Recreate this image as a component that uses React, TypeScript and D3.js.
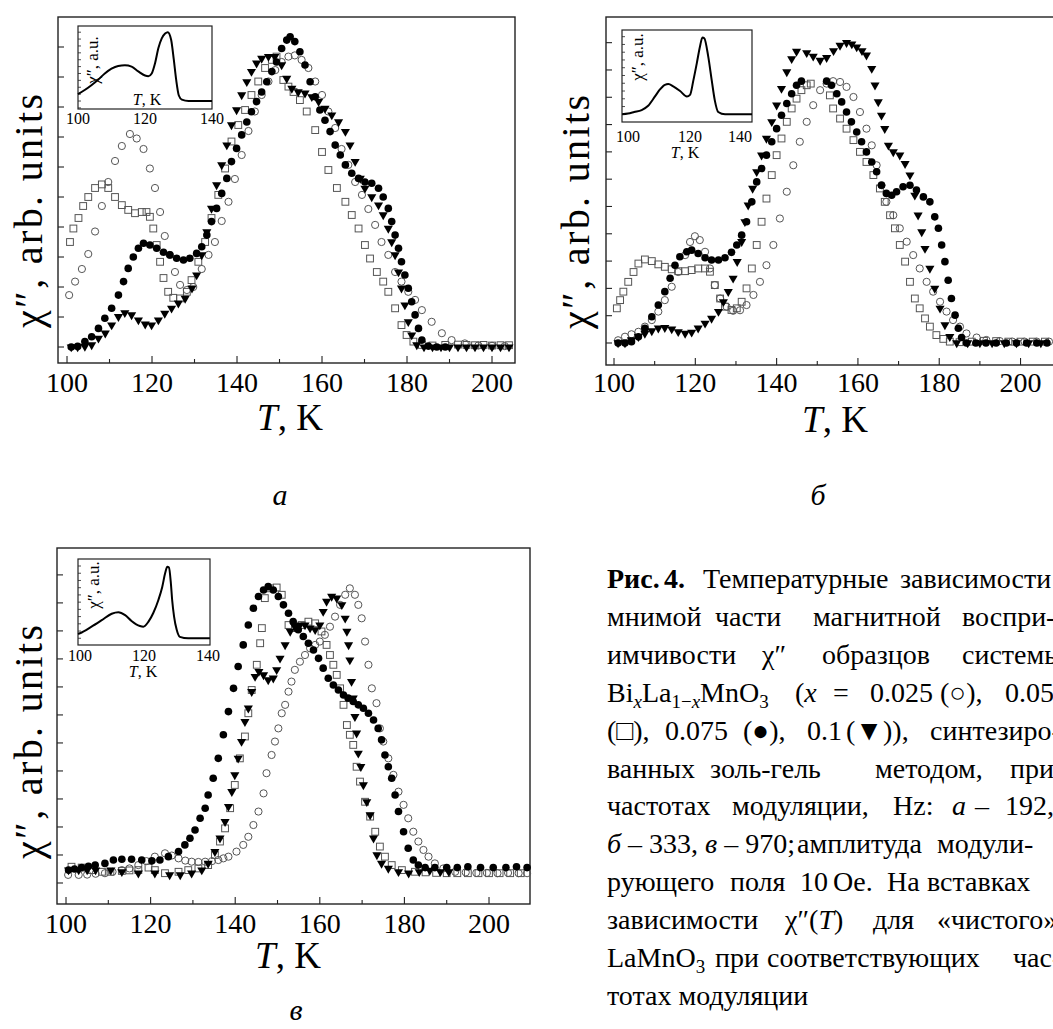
import React from 'react';
import * as d3 from 'd3';

type Pt = [number, number];

const FONT = '"Liberation Serif", "Times New Roman", Times, serif';

const xTickValues = [100, 110, 120, 130, 140, 150, 160, 170, 180, 190, 200];
const xLabelValues = [100, 120, 140, 160, 180, 200];
const insetTickValues = [100, 120, 140];

// ---- panel a (192 Hz): x = 0.025 (o), 0.05 (sq), 0.075 (dot), 0.1 (tri)
const aCircle: Pt[] = [[100.5,1.73],[101.9,2.18],[103.5,2.6],[105,3.1],[106.6,3.85],[108.2,4.7],[109.7,5.5],[111.3,6.2],[112.9,6.7],[114.8,7.1],[116.4,6.95],[118,6.6],[119.5,5.95],[120.7,5.3],[121.9,4.5],[123,3.7],[124.2,3.07],[125.4,2.5],[126.6,2.07],[128.2,1.9],[129.7,2.0],[131.7,2.6],[133.3,3.07],[134.8,3.5],[136.4,4.2],[138,4.84],[139.5,5.6],[141.1,6.4],[142.7,7.2],[144.2,7.85],[145.8,8.4],[147.4,8.85],[149,9.23],[150.5,9.5],[152.1,9.68],[153.6,9.72],[155.2,9.57],[156.8,9.3],[158.4,8.85],[160,8.4],[161.5,7.85],[163.1,7.3],[164.6,6.6],[166.2,6.07],[167.8,5.5],[169.4,5.07],[170.9,4.6],[172.5,4.07],[174,3.5],[175.6,3.07],[177.2,2.5],[178.7,2.18],[180.3,1.84],[181.9,1.57],[183.5,1.23],[185.8,0.84],[188.2,0.46],[190.5,0.23],[193.6,0.12],[196.8,0.05],[200,0.04],[203,0.03]];
const aSquare: Pt[] = [[100.7,3.5],[101.5,3.95],[102.7,4.3],[103.8,4.7],[105,5.0],[106.6,5.3],[108.2,5.42],[109.7,5.3],[111.3,5.0],[112.9,4.73],[114.4,4.57],[116,4.46],[117.6,4.5],[118.7,4.5],[119.5,4.34],[120.3,3.95],[121.1,3.4],[121.9,2.84],[122.7,2.3],[123.8,1.84],[125,1.64],[126.6,1.62],[128.2,1.84],[129.3,2.23],[130.9,2.84],[132.5,3.5],[134,4.3],[135.6,5.07],[137.2,5.95],[138.7,6.85],[140.3,7.4],[141.9,7.9],[143.4,8.4],[145,8.85],[146.6,9.3],[148.2,9.57],[149.3,9.68],[150.9,8.9],[152.1,8.68],[153.3,8.5],[154.8,8.23],[156.4,7.85],[158.4,7.23],[160,6.5],[161.5,5.9],[163.5,5.3],[165.5,4.84],[167,4.4],[168.6,3.95],[170.1,3.4],[171.3,2.95],[172.9,2.5],[174.4,2.18],[175.6,1.84],[177.2,1.29],[178.7,0.73],[179.9,0.4],[181.5,0.18],[183.5,0.07],[186,0.05],[189,0.07],[192,0.08],[194,0.07],[196,0.06],[198,0.07],[200,0.05],[202,0.06],[204,0.06]];
const aDot: Pt[] = [[101,0],[102.5,0.02],[104.2,0.18],[105.8,0.34],[107.4,0.62],[108.9,0.96],[110.5,1.29],[112.1,1.73],[113.3,2.18],[114.4,2.62],[115.6,3.0],[116.8,3.29],[118,3.46],[119.5,3.4],[121.1,3.29],[122.7,3.16],[124.2,3.07],[125.8,2.96],[127.4,2.9],[128.9,2.96],[130.5,3.12],[131.7,3.34],[132.9,3.73],[134,4.18],[135.2,4.62],[136.4,5.12],[137.6,5.62],[138.7,6.18],[139.9,6.62],[141.1,7.07],[142.3,7.5],[143.4,7.84],[144.6,8.18],[145.8,8.5],[147,8.84],[148.2,9.18],[149.3,9.5],[150.5,9.95],[151.7,10.23],[152.5,10.34],[153.6,10.18],[154.8,9.84],[156,9.4],[157.2,8.84],[158.4,8.34],[159.5,7.9],[160.7,7.56],[161.9,7.18],[163.1,6.73],[164.3,6.4],[165.5,6.07],[167,5.79],[168.6,5.62],[170.1,5.5],[171.7,5.46],[173.3,5.29],[174.4,5.0],[175.6,4.62],[176.4,4.18],[177.2,3.73],[178,3.29],[178.7,2.84],[179.5,2.4],[180.3,1.96],[181.1,1.51],[181.9,1.07],[182.7,0.62],[183.5,0.23],[185,0.03],[187,0],[189,0]];
const aTri: Pt[] = [[101,0],[102.5,0],[104.2,0.02],[105.8,0.07],[107.4,0.29],[109,0.46],[110.5,0.73],[112.1,1.01],[113.6,1.14],[115.2,1.07],[116.8,0.9],[118.4,0.76],[119.9,0.73],[121.5,0.9],[123,1.12],[124.6,1.29],[126.2,1.46],[127.8,1.62],[129.4,1.96],[130.5,2.4],[131.7,3.07],[132.9,3.84],[134,4.62],[135.2,5.4],[136.4,6.07],[137.6,6.73],[138.7,7.4],[139.9,7.9],[141.1,8.4],[142.3,8.84],[143.4,9.18],[144.6,9.46],[145.8,9.62],[147.4,9.68],[148.9,9.68],[150.5,9.4],[151.7,8.95],[152.9,8.62],[154.4,8.5],[156,8.46],[157.6,8.34],[159.2,8.18],[160.7,7.95],[162.3,7.73],[163.9,7.5],[165.5,7.18],[166.6,6.73],[167.8,6.18],[169,5.62],[170.1,5.29],[171.7,5.0],[173.3,4.73],[174.4,4.4],[175.6,3.95],[176.4,3.5],[177.2,3.07],[178,2.5],[178.7,1.96],[179.5,1.4],[180.3,0.84],[181.1,0.4],[182.3,0.07],[184,0],[186,0],[188,0],[190,0],[192,0],[194,0],[196,0],[198,0],[200,0],[202,0],[204,0]];

// ---- panel б (333 Hz)
const bCircle: Pt[] = [[101,0.1],[102.7,0.23],[104.3,0.32],[106,0.41],[107.6,0.6],[109.3,0.84],[110.9,1.15],[112.5,1.57],[114.2,2.06],[115.8,2.6],[117.5,3.22],[118.7,3.7],[119.9,3.91],[121.1,3.77],[122.4,3.34],[123.6,2.73],[124.8,2.12],[126.1,1.63],[127.7,1.33],[129.3,1.18],[131,1.2],[132.6,1.39],[134.3,1.76],[135.9,2.24],[137.5,2.85],[139.2,3.59],[140.8,4.56],[142.5,5.54],[144.1,6.51],[145.7,7.37],[147.4,8.1],[149,8.71],[150.7,9.26],[152.3,9.5],[153.9,9.59],[155.6,9.56],[157.2,9.38],[158.9,9.01],[160.5,8.46],[162.1,7.85],[163.4,7.24],[164.6,6.51],[165.8,5.78],[167,5.17],[168.7,4.68],[170.3,4.2],[172,3.71],[173.6,3.22],[175.2,2.73],[176.9,2.24],[178.5,1.88],[180.2,1.51],[181.8,1.15],[183.4,0.84],[185.1,0.6],[186.7,0.35],[189.2,0.2],[191.6,0.11],[194.9,0.07],[198,0.05],[201,0.05],[204,0.05],[207,0.05]];
const bSquare: Pt[] = [[100.7,1.27],[101.5,1.57],[102.3,1.88],[103.5,2.24],[104.8,2.6],[106,2.91],[107.6,3.06],[109.3,3.0],[110.9,2.88],[112.5,2.79],[114.2,2.7],[115.8,2.63],[117.5,2.63],[119.1,2.67],[120.7,2.73],[122.4,2.73],[123.6,2.61],[124.8,2.12],[126.1,1.63],[127.3,1.33],[128.9,1.21],[130.2,1.27],[131.4,1.51],[132.6,2.0],[133.9,2.73],[135.1,3.59],[136.3,4.44],[137.5,5.29],[138.8,6.15],[140,6.88],[141.2,7.49],[142.5,8.1],[143.7,8.59],[144.9,8.95],[146.1,9.26],[147.4,9.44],[148.4,9.5],[153.1,9.07],[153.9,8.59],[155.6,8.22],[157.2,7.85],[158.9,7.43],[160.5,7.0],[162.1,6.63],[163.8,6.15],[165.4,5.66],[166.6,5.17],[167.9,4.68],[169.1,4.2],[170.3,3.59],[171.6,2.98],[172.8,2.24],[174,1.63],[175.2,1.27],[176.5,0.9],[177.7,0.6],[179.3,0.29],[181,0.15],[182.6,0.05],[185,0.03],[188,0.05],[191,0.08],[194,0.07],[197,0.05],[200,0.05],[203,0.05],[206,0.05]];
const bDot: Pt[] = [[101,0],[102.7,0],[104.3,0.05],[106,0.23],[107.6,0.54],[109.3,0.96],[110.9,1.39],[112.5,1.88],[113.8,2.37],[115,2.85],[116.2,3.16],[117.9,3.34],[119.1,3.4],[120.7,3.28],[122.4,3.12],[124,3.04],[125.7,3.04],[127.3,3.12],[128.9,3.32],[130.2,3.59],[131.4,3.95],[132.6,4.44],[133.9,5.17],[135.1,5.9],[136.3,6.39],[137.5,6.88],[138.8,7.37],[140,7.85],[141.2,8.34],[142.5,8.77],[143.7,9.13],[144.9,9.44],[146.1,9.59],[152.3,9.59],[153.5,9.44],[154.8,9.13],[156,8.83],[157.2,8.46],[158.4,8.1],[159.7,7.73],[160.9,7.37],[162.1,7.0],[163.4,6.63],[164.6,6.27],[165.8,5.78],[167,5.48],[168.3,5.41],[169.5,5.54],[171.1,5.72],[172.8,5.78],[174.4,5.6],[176.1,5.35],[177.7,5.17],[178.9,4.62],[179.8,4.2],[180.6,3.59],[181.4,2.98],[182.2,2.3],[183,1.63],[183.9,1.02],[184.7,0.54],[185.5,0.2],[186.7,0],[189,0],[191.5,0],[194,0],[196.5,0],[199,0],[201.5,0],[204,0],[206.5,0]];
const bTri: Pt[] = [[101,0],[102.7,0],[104.3,0.11],[106,0.23],[107.6,0.35],[109.3,0.44],[110.9,0.54],[112.5,0.56],[114.2,0.51],[115.8,0.41],[117.5,0.35],[119.1,0.39],[120.7,0.54],[122.4,0.72],[124,0.9],[125.7,1.15],[126.9,1.51],[128.1,1.88],[129.3,2.37],[130.3,2.98],[131.4,3.71],[132.2,4.44],[133,5.05],[134.1,5.66],[135.1,6.27],[136.3,6.88],[137.5,7.49],[138.8,8.1],[140,8.71],[141.2,9.32],[142.5,9.93],[143.7,10.41],[144.9,10.68],[147.4,10.63],[149,10.5],[150.7,10.35],[152.3,10.45],[154,10.7],[155.6,10.9],[157.2,11.0],[158.5,10.95],[159.7,10.84],[161,10.7],[162.1,10.54],[163.4,10.05],[164.2,9.44],[165,8.83],[165.8,8.34],[166.6,7.85],[167.5,7.24],[168.7,7.0],[170.3,6.88],[171.6,6.57],[172.8,6.15],[174,5.41],[174.8,4.68],[175.7,4.07],[176.5,3.46],[177.7,2.73],[178.9,2.0],[180.2,1.27],[181.4,0.66],[182.6,0.23],[184.3,0],[187,0],[190,0],[193,0],[196,0],[199,0],[202,0],[205,0]];

// ---- panel в (970 Hz)
const cCircle: Pt[] = [[100.5,0.29],[103,0.29],[105,0.3],[107,0.33],[109.2,0.35],[111,0.4],[113.2,0.46],[115,0.52],[117.1,0.64],[119,0.78],[121,0.94],[123.4,1.06],[125,0.98],[126.6,0.88],[128.2,0.8],[129.7,0.76],[131.3,0.75],[132.9,0.76],[134.5,0.78],[136,0.82],[137.2,0.88],[138.4,0.94],[140.3,1.12],[141.9,1.36],[143.1,1.65],[144.3,2.07],[145.5,2.55],[146.7,3.2],[147.4,3.92],[148.6,4.57],[149.4,5.05],[150.2,5.52],[151,6.06],[151.8,6.36],[152.6,6.83],[153.3,7.19],[154.1,7.61],[155.3,7.9],[156.5,8.14],[157.7,8.38],[158.9,8.5],[160,8.62],[161.2,8.86],[162.4,9.15],[163.6,9.51],[164.8,9.93],[166,10.29],[167.1,10.52],[168.3,10.29],[169.1,9.93],[169.9,9.45],[170.7,8.62],[171.5,7.79],[172.3,6.95],[173.4,6.42],[174.2,5.52],[175,5.05],[176.2,4.45],[177.4,3.86],[178.6,3.26],[179.8,2.79],[180.9,2.31],[182.1,1.83],[183.3,1.48],[184.5,1.18],[185.7,0.94],[187.2,0.7],[189.2,0.52],[192,0.4],[194.5,0.38],[197,0.36],[199.5,0.36],[202,0.35],[204.5,0.36],[207,0.35],[209,0.35]];
const cSquare: Pt[] = [[101.3,0.58],[103.7,0.55],[106.1,0.46],[108.5,0.4],[110.5,0.4],[113.2,0.43],[115,0.45],[117.1,0.46],[119.5,0.55],[121,0.46],[123.4,0.35],[126.6,0.4],[128.9,0.46],[131.3,0.52],[133.6,0.64],[135.2,1.0],[136.4,1.48],[137.6,1.95],[138.8,2.67],[139.9,3.5],[141.1,4.45],[142.3,5.23],[143.1,6.06],[143.9,6.89],[145.1,7.79],[145.9,8.56],[146.3,9.1],[147,10.17],[148.2,10.52],[149.8,10.55],[151,10.29],[152.6,9.21],[154.1,9.1],[155.7,9.21],[157.3,9.33],[158.9,9.27],[160.4,8.98],[161.6,8.5],[162.4,8.14],[163.2,7.79],[164,7.43],[164.8,6.95],[165.6,6.36],[166.4,5.64],[167.1,5.29],[167.9,4.93],[168.7,4.15],[169.5,3.62],[170.7,2.9],[171.9,2.37],[173.1,1.83],[174.2,1.3],[175.4,0.94],[177,0.64],[179.4,0.46],[182.5,0.4],[185,0.38],[187.5,0.36],[190,0.35],[192.5,0.35],[195,0.35],[197.5,0.35],[200,0.35],[202.5,0.35],[205,0.35],[207.5,0.35]];
const cDot: Pt[] = [[100.6,0.46],[102,0.5],[103.7,0.55],[105.3,0.6],[106.9,0.64],[109.2,0.7],[111.2,0.82],[113.2,0.85],[115.5,0.85],[117.9,0.82],[120.3,0.79],[122.2,0.82],[124.2,0.94],[126.6,1.12],[128.1,1.36],[129.3,1.6],[130.5,1.89],[131.7,2.31],[132.9,2.67],[133.6,3.14],[134.8,3.74],[136,4.45],[137.2,5.29],[138.4,6.12],[139.6,6.95],[140.7,7.73],[141.9,8.5],[143.1,9.21],[144.3,9.81],[145.5,10.23],[146.7,10.46],[147.8,10.58],[149,10.46],[150.2,10.23],[151.4,9.93],[152.6,9.63],[153.7,9.33],[154.9,9.04],[156.1,8.8],[157.3,8.56],[158.5,8.32],[159.7,8.02],[160.8,7.67],[162,7.31],[163.2,7.07],[164.4,6.89],[165.6,6.71],[166.7,6.6],[167.9,6.48],[169.1,6.36],[170.3,6.24],[171.5,6.06],[172.7,5.82],[173.8,5.52],[174.6,5.11],[175.4,4.57],[176.2,4.15],[177,3.74],[177.8,3.14],[178.6,2.55],[179.8,1.83],[180.9,1.24],[182.1,0.82],[183.3,0.64],[184.9,0.55],[187.2,0.55],[190,0.55],[192.5,0.55],[195,0.58],[198,0.55],[201,0.55],[204,0.55],[206.5,0.58],[209,0.55]];
const cTri: Pt[] = [[100.6,0.46],[103,0.46],[105,0.46],[107,0.46],[110.6,0.46],[113.2,0.4],[117.1,0.35],[121,0.35],[124.5,0.29],[127,0.29],[129.7,0.35],[132.1,0.46],[133.6,0.7],[135.2,1.12],[136.4,1.6],[137.6,2.19],[138.4,2.73],[139.2,3.26],[139.9,3.86],[140.7,4.45],[141.5,5.05],[142.3,5.76],[143.1,6.24],[143.9,6.83],[144.7,7.37],[145.6,7.55],[146.7,7.43],[147.8,7.25],[149,7.31],[149.8,7.61],[150.6,8.02],[151.8,8.5],[153,8.98],[154.1,9.15],[155.3,9.21],[156.5,9.21],[157.7,9.1],[158.9,9.04],[160,9.21],[160.8,9.69],[161.6,10.05],[162.8,10.23],[164,10.17],[165.2,9.93],[166,9.45],[166.4,8.98],[166.8,8.5],[167.1,7.96],[167.5,7.19],[167.9,6.6],[168.3,5.94],[168.7,5.35],[169.1,4.63],[169.7,4.15],[170.3,3.5],[171.1,2.9],[171.9,2.43],[172.7,1.6],[173.5,1.0],[174.6,0.7],[176.2,0.52],[178.6,0.4],[181,0.35],[183.5,0.4],[186,0.45],[188.5,0.4],[190.5,0.4]];

// ---- insets: pure LaMnO3
const insetA: Pt[] = [[100,0.1],[102,0.16],[104,0.23],[106,0.31],[108,0.4],[110,0.47],[112,0.51],[114,0.52],[116,0.5],[118,0.43],[120,0.37],[121,0.36],[122,0.4],[123,0.55],[124,0.77],[125,0.91],[126,0.98],[126.8,1.0],[127.8,0.89],[128.6,0.6],[129.3,0.31],[130.1,0.08],[131,0.02],[133,0],[140,0]];
const insetB: Pt[] = [[98.1,0],[100,0.01],[102,0.03],[104.4,0.055],[106.5,0.11],[108.7,0.23],[110.3,0.32],[111.9,0.38],[113,0.39],[114.6,0.36],[116.8,0.3],[119,0.23],[120,0.25],[121.1,0.44],[122.2,0.66],[123.2,0.87],[124,0.99],[124.6,0.98],[125.9,0.74],[127,0.44],[128,0.18],[129.1,0.03],[131.3,0],[140,0]];
const insetC: Pt[] = [[99.4,0.06],[100,0.07],[103.6,0.16],[106.8,0.25],[109.9,0.34],[112,0.36],[114.1,0.32],[116.1,0.24],[118.7,0.17],[119.8,0.16],[121.4,0.23],[122.9,0.35],[124.5,0.53],[125.7,0.71],[126.6,0.9],[127.3,0.99],[127.8,0.98],[128.4,0.76],[128.8,0.53],[129.4,0.3],[130.2,0.12],[131.2,0.02],[133.8,0],[140.6,0]];

const triPath = d3.symbol().type(d3.symbolTriangle).size(36)() as string;

function Inset({ cfg }: { cfg: any }) {
  const x = d3.scaleLinear().domain(cfg.xDom).range([cfg.left, cfg.right]);
  const y = d3.scaleLinear().domain(cfg.yDom).range([cfg.bottom, cfg.top]);
  const line = d3.line<Pt>().x(d => x(d[0])).y(d => y(d[1])).curve(d3.curveMonotoneX);
  const yt = y.ticks(12);
  return (
    <g>
      <rect x={cfg.left} y={cfg.top} width={cfg.right - cfg.left} height={cfg.bottom - cfg.top} fill="#fff" stroke="#222" strokeWidth={1.2} />
      {yt.map(t => (
        <line key={t} x1={cfg.left} x2={cfg.left + 3} y1={y(t)} y2={y(t)} stroke="#222" strokeWidth={0.8} />
      ))}
      <path d={line(cfg.data) || ''} fill="none" stroke="#000" strokeWidth={2} />
      {insetTickValues.map((t, i) => (
        <text key={t} x={x(t)} y={cfg.labelY} fontSize={16} fontFamily={FONT}
          textAnchor={cfg.lastEnd && i === 2 ? 'end' : 'middle'}>{t}</text>
      ))}
      <text x={cfg.tk[0]} y={cfg.tk[1]} fontSize={16} fontFamily={FONT} textAnchor="middle">
        <tspan fontStyle="italic">T</tspan>, K
      </text>
      <text transform={`translate(${cfg.yl[0]},${cfg.yl[1]}) rotate(-90)`} fontSize={17} fontFamily={FONT}
        textAnchor="middle">χ″, a.u.</text>
    </g>
  );
}

function Panel({ cfg }: { cfg: any }) {
  const x = d3.scaleLinear().domain(cfg.xDom).range([cfg.left, cfg.right]);
  const y = d3.scaleLinear().domain(cfg.yDom).range([cfg.bottom, cfg.top]);
  const yTicks = d3.range(0, cfg.yTickMax + 1);
  const s = cfg.series;
  return (
    <g>
      <rect x={cfg.left} y={cfg.top} width={cfg.right - cfg.left} height={cfg.bottom - cfg.top} fill="none" stroke="#222" strokeWidth={1.4} />
      {yTicks.map(t => (
        <line key={t} x1={cfg.left} x2={cfg.left + 6} y1={y(t)} y2={y(t)} stroke="#222" strokeWidth={1.1} />
      ))}
      {xTickValues.map(t => (
        <line key={t} x1={x(t)} x2={x(t)} y1={cfg.bottom} y2={cfg.bottom - (t % 20 === 0 ? 7 : 4)} stroke="#222" strokeWidth={1.1} />
      ))}
      {xLabelValues.map(t => (
        <text key={t} x={x(t)} y={cfg.labelY} fontSize={28} fontFamily={FONT} textAnchor="middle">{t}</text>
      ))}
      <text x={cfg.xTitle[0]} y={cfg.xTitle[1]} fontSize={37} fontFamily={FONT} textAnchor="middle">
        <tspan fontStyle="italic">T</tspan>, K
      </text>
      <text transform={`translate(${cfg.yTitle[0]},${cfg.yTitle[1]}) rotate(-90)`} fontSize={40} fontFamily={FONT}
        textAnchor="middle" textLength={234} lengthAdjust="spacing">χ″, arb. units</text>
      <Inset cfg={cfg.inset} />
      <g>
        {s.circle.map((d: Pt, i: number) => (
          <circle key={'c' + i} cx={x(d[0])} cy={y(d[1])} r={3.6} fill="none" stroke="#555" strokeWidth={1} />
        ))}
        {s.square.map((d: Pt, i: number) => (
          <rect key={'s' + i} x={x(d[0]) - 3.4} y={y(d[1]) - 3.4} width={6.8} height={6.8} fill="none" stroke="#555" strokeWidth={1} />
        ))}
        {s.dot.map((d: Pt, i: number) => (
          <circle key={'d' + i} cx={x(d[0])} cy={y(d[1])} r={3.8} fill="#000" />
        ))}
        {s.tri.map((d: Pt, i: number) => (
          <path key={'t' + i} d={triPath} transform={`translate(${x(d[0])},${y(d[1])}) rotate(180)`} fill="#000" />
        ))}
      </g>
      <text x={cfg.letter[0]} y={cfg.letter[1]} fontSize={30} fontStyle="italic" fontFamily={FONT} textAnchor="middle">{cfg.letter[2]}</text>
    </g>
  );
}

const panelA = {
  left: 58, right: 515, top: 17, bottom: 363,
  xDom: [97.88, 205.41], yDom: [-0.533, 11], yTickMax: 10,
  labelY: 392, xTitle: [290, 430], yTitle: [42, 211], letter: [280, 505, 'а'],
  series: { circle: aCircle, square: aSquare, dot: aDot, tri: aTri },
  inset: { left: 78, right: 212, top: 26, bottom: 109, xDom: [100, 140], yDom: [-0.116, 1.09], data: insetA, labelY: 124, tk: [147, 105], yl: [98, 60] },
};
const panelB = {
  left: 606, right: 1062, top: 17, bottom: 365,
  xDom: [98.03, 210.2], yDom: [-0.806, 11.94], yTickMax: 11,
  labelY: 392, xTitle: [835, 432], yTitle: [589, 212], letter: [818, 505, 'б'],
  series: { circle: bCircle, square: bSquare, dot: bDot, tri: bTri },
  inset: { left: 622, right: 752, top: 30, bottom: 122, xDom: [98.06, 140], yDom: [-0.099, 1.086], data: insetB, labelY: 142, tk: [685, 158], yl: [643, 57], lastEnd: true },
};
const panelC = {
  left: 57, right: 530, top: 548, bottom: 904,
  xDom: [97.87, 209.69], yDom: [-0.75, 11.96], yTickMax: 11,
  labelY: 933, xTitle: [288, 968], yTitle: [42, 742], letter: [296, 1020, 'в'],
  series: { circle: cCircle, square: cSquare, dot: cDot, tri: cTri },
  inset: { left: 78, right: 210, top: 559, bottom: 645, xDom: [99.375, 140.625], yDom: [-0.093, 1.097], data: insetC, labelY: 661, tk: [143, 677], yl: [99, 585] },
};

const capY = (i: number) => 588 + i * 37.9;

function Caption() {
  const sub = { fontSize: 19 };
  return (
    <g fontFamily={FONT} fontSize={28} fill="#000">
      <text y={capY(0)}>
        <tspan x={607} fontWeight="bold">Рис.</tspan>
        <tspan x={664} fontWeight="bold">4.</tspan>
        <tspan x={703}>Температурные</tspan>
        <tspan x={900}>зависимости</tspan>
      </text>
      <text y={capY(1)}>
        <tspan x={607}>мнимой</tspan><tspan x={715}>части</tspan><tspan x={813}>магнитной</tspan><tspan x={962}>воспри-</tspan>
      </text>
      <text y={capY(2)}>
        <tspan x={607}>имчивости</tspan><tspan x={762}>χ″</tspan><tspan x={822}>образцов</tspan><tspan x={962}>системы</tspan>
      </text>
      <text y={capY(3)}>
        <tspan x={607}>Bi</tspan><tspan dy={6} {...sub} fontStyle="italic">x</tspan><tspan dy={-6}>La</tspan>
        <tspan dy={6} {...sub}>1−</tspan><tspan {...sub} fontStyle="italic">x</tspan><tspan dy={-6}>MnO</tspan>
        <tspan dy={6} {...sub}>3</tspan>
        <tspan x={795} dy={-6}>(</tspan><tspan fontStyle="italic">x</tspan>
        <tspan x={833}>=</tspan><tspan x={870}>0.025</tspan><tspan x={940}>(○),</tspan><tspan x={1005}>0.05</tspan>
      </text>
      <text y={capY(4)}>
        <tspan x={607}>(□),</tspan><tspan x={665}>0.075</tspan><tspan x={743}>(●),</tspan><tspan x={807}>0.1</tspan>
        <tspan x={846}>(▼)),</tspan><tspan x={930}>синтезиро-</tspan>
      </text>
      <text y={capY(5)}>
        <tspan x={607}>ванных</tspan><tspan x={710}>золь-гель</tspan><tspan x={875}>методом,</tspan><tspan x={1010}>при</tspan>
      </text>
      <text y={capY(6)}>
        <tspan x={607}>частотах</tspan><tspan x={732}>модуляции,</tspan><tspan x={893}>Hz:</tspan>
        <tspan x={952} fontStyle="italic">а</tspan><tspan x={975}>–</tspan><tspan x={1005}>192,</tspan>
      </text>
      <text y={capY(7)}>
        <tspan x={607} fontStyle="italic">б</tspan><tspan> – 333, </tspan><tspan fontStyle="italic">в</tspan><tspan> – 970;</tspan>
        <tspan x={797}>амплитуда</tspan><tspan x={937}>модули-</tspan>
      </text>
      <text y={capY(8)}>
        <tspan x={607}>рующего</tspan><tspan x={730}>поля</tspan><tspan x={800}>10</tspan><tspan x={833}>Ое.</tspan>
        <tspan x={887}>На</tspan><tspan x={927}>вставках</tspan>
      </text>
      <text y={capY(9)}>
        <tspan x={607}>зависимости</tspan><tspan x={785}>χ″(</tspan><tspan fontStyle="italic">T</tspan><tspan>)</tspan>
        <tspan x={873}>для</tspan><tspan x={937}>«чистого»</tspan>
      </text>
      <text y={capY(10)}>
        <tspan x={607}>LaMnO</tspan><tspan dy={6} {...sub}>3</tspan>
        <tspan x={715} dy={-6}>при</tspan><tspan x={767}>соответствующих</tspan><tspan x={1013}>час-</tspan>
      </text>
      <text y={capY(11)} x={607}>тотах модуляции</text>
    </g>
  );
}

export default function App() {
  return (
    <svg width={1053} height={1029} viewBox="0 0 1053 1029"
      style={{ position: 'absolute', left: 0, top: 0, background: '#fff' }}>
      <rect width={1053} height={1029} fill="#fff" />
      <Panel cfg={panelA} />
      <Panel cfg={panelB} />
      <Panel cfg={panelC} />
      <Caption />
    </svg>
  );
}
